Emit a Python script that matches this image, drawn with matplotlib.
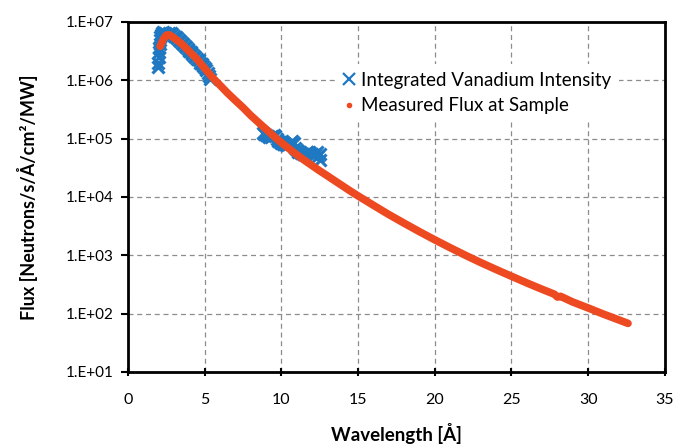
import numpy as np
import matplotlib
matplotlib.use('Agg')
import matplotlib.pyplot as plt
from matplotlib.ticker import FuncFormatter, FixedLocator
from matplotlib.lines import Line2D

plt.rcParams['font.family'] = ['Lato', 'DejaVu Sans']

# measured flux at sample (orange curve)
flux_wl = [2.1, 2.3, 2.5, 2.7, 3.0, 3.5, 4.0, 4.5, 5.0, 5.5, 6.0, 6.5, 7.0, 7.5,
           8.0, 8.5, 9.0, 9.5, 10.0, 10.5, 11.0, 11.5, 12.0, 12.5, 13.0, 13.5,
           14.0, 14.5, 15.0, 16.0, 17.0, 18.0, 19.0, 20.0, 21.0, 22.0, 23.0,
           24.0, 25.0, 26.0, 27.0, 27.8, 28.0, 28.2, 29.0, 30.0, 31.0, 32.0, 32.6]
flux_val = [3.8e6, 5.0e6, 5.9e6, 6.0e6, 5.3e6, 4.2e6, 3.1e6, 2.3e6, 1.6e6, 1.12e6,
            8.2e5, 6.0e5, 4.5e5, 3.4e5, 2.5e5, 1.9e5, 1.45e5, 1.1e5, 8.5e4, 6.7e4,
            5.3e4, 4.25e4, 3.45e4, 2.8e4, 2.3e4, 1.88e4, 1.54e4, 1.26e4, 1.04e4, 7.2e3,
            5.0e3, 3.55e3, 2.54e3, 1.84e3, 1.35e3, 1.0e3, 7.5e2, 5.7e2, 4.37e2, 3.36e2,
            2.61e2, 2.15e2, 1.92e2, 1.98e2, 1.58e2, 1.25e2, 9.8e1, 7.8e1, 6.8e1]

# integrated vanadium intensity (blue crosses), two wavelength bands
van_wl_1 = [1.95, 1.98, 2.0, 2.02, 2.04, 2.06, 2.08, 2.1, 2.15, 2.2, 2.3, 2.4, 2.5,
            2.6, 2.7, 2.8, 2.9, 3.0, 3.1, 3.2, 3.3, 3.4, 3.5, 3.6, 3.7, 3.8, 3.9,
            4.0, 4.1, 4.2, 4.3, 4.4, 4.5, 4.6, 4.7, 4.8, 4.9, 5.0, 5.1, 5.2, 5.3, 5.35]
van_val_1 = [1.7e6, 2.0e6, 2.5e6, 3.0e6, 3.6e6, 4.2e6, 4.8e6, 5.4e6, 6.0e6, 6.4e6,
             6.6e6, 6.5e6, 6.3e6, 6.2e6, 6.4e6, 6.5e6, 6.2e6, 5.8e6, 5.5e6, 5.2e6,
             4.9e6, 4.7e6, 4.4e6, 4.2e6, 3.9e6, 3.7e6, 3.4e6, 3.2e6, 3.0e6, 2.8e6,
             2.6e6, 2.5e6, 2.3e6, 2.2e6, 2.0e6, 1.9e6, 1.75e6, 1.6e6, 1.5e6, 1.35e6,
             1.2e6, 1.05e6]
van_wl_2 = [8.8, 8.9, 9.0, 9.1, 9.2, 9.3, 9.4, 9.5, 9.6, 9.7, 9.8, 9.9, 10.0, 10.1,
            10.2, 10.3, 10.4, 10.5, 10.6, 10.7, 10.8, 10.9, 11.0, 11.1, 11.2, 11.3,
            11.4, 11.5, 11.6, 11.7, 11.8, 11.9, 12.0, 12.1, 12.2, 12.3, 12.4, 12.5, 12.55]
van_val_2 = [1.25e5, 1.2e5, 1.15e5, 1.1e5, 1.07e5, 1.05e5, 1.1e5, 1.15e5, 1.12e5,
             1.0e5, 9.2e4, 8.8e4, 8.5e4, 8.2e4, 8.0e4, 7.8e4, 7.8e4, 8.2e4, 8.8e4,
             9.0e4, 8.5e4, 7.0e4, 6.4e4, 6.0e4, 5.8e4, 5.6e4, 5.5e4, 5.5e4, 5.6e4,
             5.8e4, 5.9e4, 5.7e4, 5.4e4, 5.2e4, 5.5e4, 6.0e4, 5.0e4, 4.3e4, 5.5e4]

x_ticks = [0, 5, 10, 15, 20, 25, 30, 35]
y_ticks = [1e1, 1e2, 1e3, 1e4, 1e5, 1e6, 1e7]

blue = '#1E78C2'
orange = '#EE4A22'

fig = plt.figure(figsize=(6.77, 4.46), dpi=100)
ax = fig.add_axes([0.189, 0.166, 0.793, 0.785])

ax.plot(van_wl_1, van_val_1, linestyle='none', marker='x', ms=9, mew=2.2, color=blue, zorder=3)
ax.plot(van_wl_2, van_val_2, linestyle='none', marker='x', ms=9, mew=2.2, color=blue, zorder=3)
ax.plot(flux_wl, flux_val, '-', lw=5.5, color=orange, solid_capstyle='round',
        solid_joinstyle='round', zorder=4)

ax.set_yscale('log')
ax.set_xlim(0, 35)
ax.set_ylim(1e1, 1e7)
ax.xaxis.set_major_locator(FixedLocator(x_ticks))
ax.yaxis.set_major_locator(FixedLocator(y_ticks))
ax.yaxis.set_minor_locator(FixedLocator([]))
ax.yaxis.set_major_formatter(FuncFormatter(lambda v, _: '1.E+%02d' % int(round(np.log10(v)))))

ax.grid(True, which='major', color='#8C8C8C', linestyle=(0, (4, 3)), lw=0.9)
ax.set_axisbelow(True)
for s in ax.spines.values():
    s.set_linewidth(2)
    s.set_color('black')

ax.tick_params(axis='y', which='major', direction='out', length=5, width=1.5, labelsize=11, pad=5)
ax.tick_params(axis='x', which='major', direction='inout', length=6, width=1.5, labelsize=11.5, pad=12)

ax.set_xlabel('Wavelength [Å]', fontsize=13.5, fontweight='bold', labelpad=12)
ax.set_ylabel('Flux [Neutrons/s/Å/cm²/MW]', fontsize=13, fontweight='bold', labelpad=20)

handles = [
    Line2D([], [], linestyle='none', marker='x', ms=8, mew=1.6, color=blue),
    Line2D([], [], linestyle='none', marker='o', ms=3, color=orange),
]
leg = ax.legend(handles, ['Integrated Vanadium Intensity', 'Measured Flux at Sample'],
                loc='upper left', bbox_to_anchor=(0.368, 0.905), fontsize=13.5,
                frameon=True, facecolor='white', edgecolor='none', framealpha=1,
                handlelength=0.7, handletextpad=0.3, labelspacing=0.45, borderpad=0.4,
                fancybox=False)

fig.savefig('out.png', dpi=100)
